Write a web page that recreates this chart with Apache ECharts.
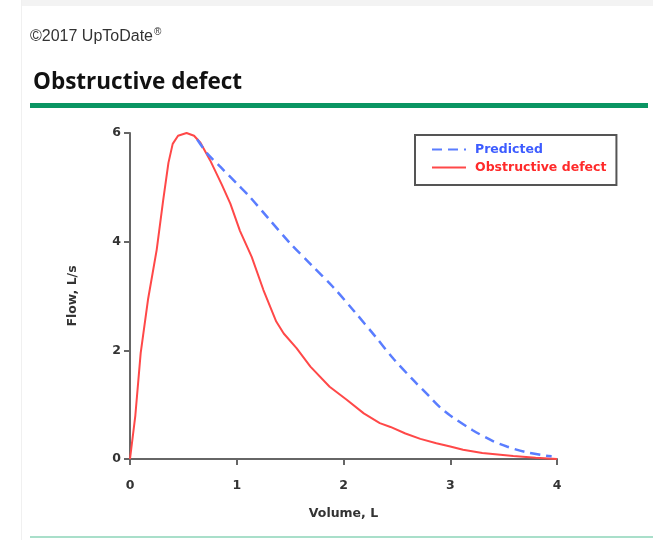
<!DOCTYPE html>
<html>
<head>
<meta charset="utf-8">
<script src="https://cdn.jsdelivr.net/npm/echarts@6/dist/echarts.min.js"></script>
<style>
html,body{margin:0;padding:0;background:#fff;}
#chart{width:653px;height:540px;}
</style>
</head>
<body>
<div id="chart"></div>
<script>
// ---- data ----
const xTicks = [0, 1, 2, 3, 4];
const yTicks = [0, 2, 4, 6];
const obstructiveVolume = [0, 0.05, 0.10, 0.17, 0.25, 0.31, 0.36, 0.40, 0.45, 0.53, 0.60, 0.66, 0.75, 0.86, 0.94, 1.03, 1.14, 1.25, 1.37, 1.44, 1.56, 1.69, 1.87, 2.03, 2.19, 2.34, 2.44, 2.58, 2.72, 2.87, 3.00, 3.12, 3.30, 3.59, 3.80, 4.00];
const obstructiveFlow   = [0, 0.80, 1.95, 2.95, 3.85, 4.75, 5.45, 5.80, 5.95, 6.00, 5.95, 5.82, 5.50, 5.05, 4.70, 4.20, 3.72, 3.11, 2.53, 2.31, 2.04, 1.70, 1.33, 1.09, 0.84, 0.66, 0.59, 0.47, 0.37, 0.29, 0.23, 0.17, 0.11, 0.055, 0.025, 0];
const predictedVolume = [0.63, 0.72, 0.85, 1.00, 1.12, 1.30, 1.50, 1.70, 1.90, 2.10, 2.30, 2.47, 2.65, 2.80, 2.90, 3.00, 3.21, 3.40, 3.53, 3.70, 3.90, 3.95];
const predictedFlow   = [5.88, 5.63, 5.37, 5.07, 4.83, 4.42, 3.97, 3.57, 3.17, 2.72, 2.25, 1.84, 1.46, 1.16, 0.96, 0.80, 0.53, 0.33, 0.23, 0.13, 0.06, 0.05];
const seriesNames = ['Predicted', 'Obstructive defect'];
const headerText = '©2017 UpToDate';
const titleText = 'Obstructive defect';
const xName = 'Volume, L';
const yName = 'Flow, L/s';

const zip = (a, b) => a.map((v, i) => [v, b[i]]);
const FONT = '"DejaVu Sans", Verdana, sans-serif';
const FS = 12.5;

const chart = echarts.init(document.getElementById('chart'), null, {renderer: 'canvas'});
chart.setOption({
  animation: false,
  backgroundColor: '#fff',
  grid: {left: 130, right: 96, top: 133, bottom: 81, containLabel: false},
  xAxis: {
    type: 'value', min: xTicks[0], max: xTicks[xTicks.length - 1], interval: 1,
    name: xName, nameLocation: 'middle', nameGap: 48,
    nameTextStyle: {fontFamily: FONT, fontWeight: 'bold', fontSize: FS, color: '#333'},
    axisLine: {show: true, lineStyle: {color: '#666', width: 2}},
    axisTick: {show: true, length: 6, lineStyle: {color: '#666', width: 2}},
    axisLabel: {margin: 20, fontFamily: FONT, fontWeight: 'bold', fontSize: FS, color: '#333'},
    splitLine: {show: false}
  },
  yAxis: {
    type: 'value', min: yTicks[0], max: yTicks[yTicks.length - 1], interval: 2,
    name: yName, nameLocation: 'middle', nameGap: 51,
    nameTextStyle: {fontFamily: FONT, fontWeight: 'bold', fontSize: FS, color: '#333'},
    axisLine: {show: true, onZero: false, lineStyle: {color: '#666', width: 2}},
    axisTick: {show: true, length: 6, lineStyle: {color: '#666', width: 2}},
    axisLabel: {margin: 9, fontFamily: FONT, fontWeight: 'bold', fontSize: FS, color: '#333'},
    splitLine: {show: false}
  },
  legend: {
    orient: 'vertical', left: 415, top: 135,
    padding: [8, 10, 11, 16], itemGap: 5, itemWidth: 34, itemHeight: 15,
    borderColor: '#555', borderWidth: 2, backgroundColor: '#fff',
    itemStyle: {opacity: 0},
    data: [
      {name: seriesNames[0], textStyle: {color: '#3d5cff'}},
      {name: seriesNames[1], textStyle: {color: '#ff2a2a'}}
    ],
    textStyle: {fontFamily: FONT, fontWeight: 'bold', fontSize: FS, padding: [0, 0, 0, 4]}
  },
  series: [
    {
      name: seriesNames[0], type: 'line', data: zip(predictedVolume, predictedFlow),
      showSymbol: false, symbol: 'none', smooth: 0.3, z: 3,
      lineStyle: {color: '#5a7dff', width: 2.5, type: [10, 6]},
      itemStyle: {color: '#5a7dff'}
    },
    {
      name: seriesNames[1], type: 'line', data: zip(obstructiveVolume, obstructiveFlow),
      showSymbol: false, symbol: 'none', smooth: false, z: 2,
      lineStyle: {color: '#ff4848', width: 2},
      itemStyle: {color: '#ff4848'}
    }
  ],
  graphic: [
    {type: 'rect', shape: {x: 21, y: 0, width: 632, height: 6}, style: {fill: '#f3f3f3'}, silent: true},
    {type: 'line', shape: {x1: 21.5, y1: 0, x2: 21.5, y2: 540}, style: {stroke: '#f0f0f0', lineWidth: 1}, silent: true},
    {type: 'text', left: 30, top: 29, style: {text: headerText, font: '16px "Liberation Sans", Arial, sans-serif', fill: '#333'}},
    {type: 'text', left: 154, top: 27, style: {text: '®', font: '10px "Liberation Sans", Arial, sans-serif', fill: '#333'}},
    {type: 'text', left: 33, top: 71, style: {text: titleText, font: 'bold 22.5px "Open Sans", sans-serif', fill: '#111'}},
    {type: 'rect', shape: {x: 30, y: 103, width: 618, height: 5}, style: {fill: '#0a9563'}, silent: true},
    {type: 'rect', shape: {x: 30, y: 536, width: 623, height: 2}, style: {fill: '#a9dfca'}, silent: true}
  ]
});
</script>
</body>
</html>
